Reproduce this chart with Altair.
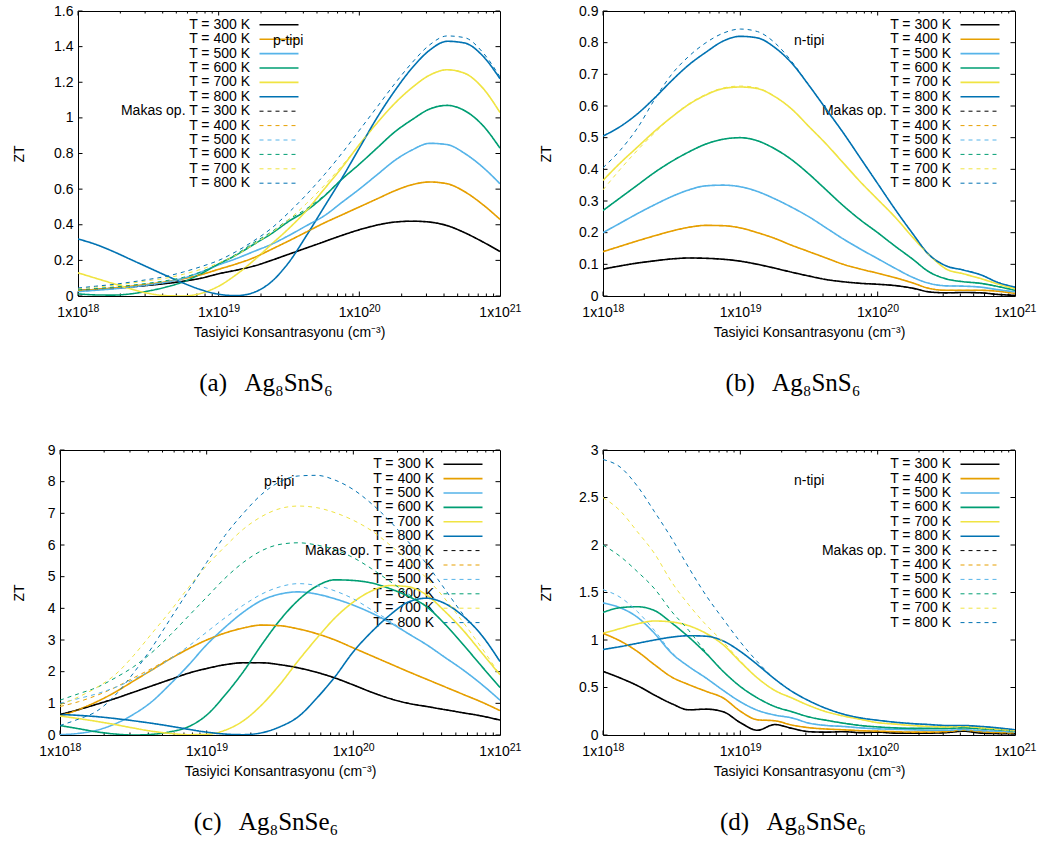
import altair as alt
import pandas as pd

# ---------------------------------------------------------------------------
# Sampling grid: log10 of the carrier concentration (cm^-3)
# ---------------------------------------------------------------------------
LOG_N = [18.0, 18.125, 18.25, 18.375, 18.5, 18.625, 18.75, 18.875,
         19.0, 19.125, 19.25, 19.375, 19.5, 19.625, 19.75, 19.875,
         20.0, 20.125, 20.25, 20.375, 20.5, 20.625, 20.75, 20.875, 21.0]

TEMPS = ["300", "400", "500", "600", "700", "800"]
COLORS = ["#000000", "#e69f00", "#56b4e9", "#009e73", "#f0e442", "#0072b2"]

X_TICK_VALUES = [1e18, 1e19, 1e20, 1e21]
X_TICK_BASE = ["1x10", "1x10", "1x10", "1x10"]
X_TICK_EXP = ["18", "19", "20", "21"]
X_TITLE = "Tasiyici Konsantrasyonu (cm⁻³)"
MINOR_FACTORS = [2, 3, 4, 5, 6, 7, 8, 9]

LEGEND_LABELS = ["T = 300 K", "T = 400 K", "T = 500 K", "T = 600 K",
                 "T = 700 K", "T = 800 K",
                 "Makas op. T = 300 K", "T = 400 K", "T = 500 K",
                 "T = 600 K", "T = 700 K", "T = 800 K"]

# ---------------------------------------------------------------------------
# (a) Ag8SnS6, p-type
# ---------------------------------------------------------------------------
A_YTICKS = [0, 0.2, 0.4, 0.6, 0.8, 1, 1.2, 1.4, 1.6]
a_300 = [0.03, 0.036, 0.043, 0.051, 0.06, 0.07, 0.083, 0.1, 0.125, 0.145, 0.168, 0.2, 0.235,
         0.27, 0.305, 0.34, 0.372, 0.398, 0.415, 0.42, 0.415, 0.395, 0.355, 0.305, 0.25]
a_400 = [0.03, 0.037, 0.045, 0.055, 0.066, 0.08, 0.097, 0.12, 0.15, 0.18, 0.215, 0.262, 0.31,
         0.36, 0.41, 0.455, 0.5, 0.545, 0.59, 0.625, 0.64, 0.63, 0.585, 0.515, 0.43]
a_500 = [0.025, 0.032, 0.04, 0.05, 0.062, 0.077, 0.1, 0.135, 0.175, 0.21, 0.25, 0.29, 0.34,
         0.395, 0.45, 0.525, 0.6, 0.68, 0.76, 0.82, 0.857, 0.85, 0.8, 0.725, 0.63]
a_600 = [0.012, 0.006, 0.005, 0.012, 0.028, 0.05, 0.08, 0.125, 0.18, 0.23, 0.29, 0.35, 0.42,
         0.48, 0.56, 0.655, 0.74, 0.83, 0.92, 0.99, 1.05, 1.07, 1.04, 0.96, 0.83]
a_700 = [0.13, 0.1, 0.07, 0.04, 0.015, 0.002, 0.0, 0.015, 0.055, 0.12, 0.2, 0.29, 0.38,
         0.48, 0.6, 0.72, 0.85, 0.97, 1.08, 1.17, 1.24, 1.27, 1.25, 1.17, 1.03]
a_800 = [0.32, 0.29, 0.25, 0.205, 0.16, 0.115, 0.072, 0.035, 0.01, 0.002, 0.02, 0.08, 0.19,
         0.34, 0.5, 0.66, 0.83, 1.0, 1.15, 1.28, 1.38, 1.43, 1.42, 1.35, 1.22]
a_makas_300 = a_300
a_makas_400 = a_400
a_makas_500 = a_500
a_makas_600 = [0.035, 0.042, 0.05, 0.06, 0.072, 0.086, 0.105, 0.135, 0.18, 0.235, 0.3, 0.36, 0.43,
               0.49, 0.565, 0.655, 0.74, 0.83, 0.92, 0.99, 1.05, 1.07, 1.04, 0.96, 0.83]
a_makas_700 = [0.04, 0.05, 0.06, 0.072, 0.086, 0.1, 0.122, 0.15, 0.185, 0.23, 0.29, 0.355, 0.43,
               0.52, 0.62, 0.73, 0.85, 0.97, 1.08, 1.17, 1.24, 1.27, 1.25, 1.17, 1.03]
a_makas_800 = [0.045, 0.055, 0.065, 0.078, 0.093, 0.11, 0.135, 0.165, 0.2, 0.25, 0.31, 0.38, 0.47,
               0.57, 0.68, 0.8, 0.93, 1.06, 1.19, 1.31, 1.41, 1.46, 1.45, 1.37, 1.23]

# ---------------------------------------------------------------------------
# (b) Ag8SnS6, n-type
# ---------------------------------------------------------------------------
B_YTICKS = [0, 0.1, 0.2, 0.3, 0.4, 0.5, 0.6, 0.7, 0.8, 0.9]
b_300 = [0.085, 0.095, 0.104, 0.111, 0.117, 0.12, 0.119, 0.116, 0.11, 0.1, 0.088, 0.075, 0.063,
         0.052, 0.045, 0.04, 0.037, 0.033, 0.025, 0.013, 0.01, 0.011, 0.01, 0.005, 0.002]
b_400 = [0.14, 0.157, 0.174, 0.19, 0.205, 0.217, 0.223, 0.222, 0.215, 0.2, 0.182, 0.16, 0.14,
         0.12, 0.1, 0.085, 0.072, 0.058, 0.042, 0.024, 0.018, 0.018, 0.018, 0.015, 0.008]
b_500 = [0.2, 0.23, 0.26, 0.288, 0.314, 0.335, 0.348, 0.35, 0.345, 0.33, 0.307, 0.28, 0.25,
         0.215, 0.18, 0.148, 0.118, 0.088, 0.06, 0.04, 0.032, 0.031, 0.028, 0.02, 0.013]
b_600 = [0.27, 0.31, 0.35, 0.39, 0.425, 0.455, 0.48, 0.495, 0.5, 0.49, 0.465, 0.43, 0.385,
         0.335, 0.285, 0.24, 0.2, 0.158, 0.118, 0.076, 0.054, 0.045, 0.04, 0.03, 0.018]
b_700 = [0.365, 0.42, 0.47, 0.52, 0.565, 0.605, 0.635, 0.655, 0.66, 0.655, 0.63, 0.59, 0.535,
         0.48, 0.42, 0.36, 0.305, 0.25, 0.188, 0.13, 0.085, 0.07, 0.055, 0.038, 0.023]
b_800 = [0.505, 0.535, 0.575, 0.625, 0.68, 0.73, 0.77, 0.805, 0.82, 0.815, 0.785, 0.735, 0.665,
         0.59, 0.515, 0.435, 0.355, 0.275, 0.2, 0.13, 0.095, 0.082, 0.067, 0.043, 0.028]
b_makas_300 = b_300
b_makas_400 = b_400
b_makas_500 = b_500
b_makas_600 = b_600
b_makas_700 = [0.335, 0.4, 0.46, 0.515, 0.565, 0.607, 0.637, 0.657, 0.663, 0.657, 0.63, 0.59, 0.535,
               0.48, 0.42, 0.36, 0.305, 0.25, 0.188, 0.13, 0.085, 0.07, 0.055, 0.038, 0.023]
b_makas_800 = [0.405, 0.46, 0.53, 0.62, 0.7, 0.757, 0.8, 0.83, 0.843, 0.835, 0.8, 0.74, 0.665,
               0.59, 0.515, 0.435, 0.355, 0.275, 0.2, 0.13, 0.095, 0.082, 0.067, 0.043, 0.028]

# ---------------------------------------------------------------------------
# (c) Ag8SnSe6, p-type
# ---------------------------------------------------------------------------
C_YTICKS = [0, 1, 2, 3, 4, 5, 6, 7, 8, 9]
c_300 = [0.65, 0.8, 0.97, 1.15, 1.35, 1.55, 1.75, 1.95, 2.1, 2.22, 2.28, 2.28, 2.22,
         2.12, 1.98, 1.8, 1.58, 1.35, 1.15, 1.0, 0.9, 0.8, 0.7, 0.6, 0.47]
c_400 = [0.6, 0.8, 1.05, 1.35, 1.7, 2.05, 2.4, 2.72, 3.0, 3.22, 3.38, 3.47, 3.45,
         3.35, 3.2, 3.0, 2.75, 2.5, 2.25, 2.0, 1.76, 1.52, 1.28, 1.04, 0.77]
c_500 = [0.01, 0.05, 0.15, 0.35, 0.65, 1.05, 1.6, 2.2, 2.85, 3.4, 3.88, 4.25, 4.45,
         4.52, 4.45, 4.3, 4.1, 3.85, 3.55, 3.2, 2.85, 2.45, 2.05, 1.6, 1.1]
c_600 = [0.3, 0.2, 0.1, 0.03, 0.0, 0.02, 0.1, 0.26, 0.63, 1.26, 2.0, 2.85, 3.63,
         4.26, 4.7, 4.9, 4.88, 4.8, 4.62, 4.38, 4.05, 3.5, 2.85, 2.17, 1.5]
c_700 = [0.6, 0.52, 0.43, 0.33, 0.22, 0.12, 0.05, 0.01, 0.02, 0.15, 0.45, 0.95, 1.6,
         2.35, 3.05, 3.7, 4.2, 4.55, 4.72, 4.68, 4.42, 3.9, 3.3, 2.6, 1.9]
c_800 = [0.65, 0.62, 0.58, 0.52, 0.45, 0.37, 0.28, 0.18, 0.09, 0.03, 0.01, 0.07, 0.26,
         0.58, 1.16, 1.84, 2.63, 3.26, 3.79, 4.2, 4.32, 4.15, 3.75, 3.15, 2.32]
c_makas_300 = c_300
c_makas_400 = [0.9, 1.05, 1.25, 1.5, 1.8, 2.1, 2.42, 2.73, 3.0, 3.22, 3.38, 3.47, 3.45,
               3.35, 3.2, 3.0, 2.75, 2.5, 2.25, 2.0, 1.76, 1.52, 1.28, 1.04, 0.77]
c_makas_500 = [1.0, 1.15, 1.3, 1.5, 1.75, 2.05, 2.4, 2.8, 3.25, 3.7, 4.1, 4.45, 4.68,
               4.78, 4.72, 4.55, 4.3, 3.95, 3.6, 3.2, 2.85, 2.45, 2.05, 1.6, 1.1]
c_makas_600 = [1.1, 1.3, 1.5, 1.8, 2.15, 2.6, 3.15, 3.75, 4.35, 4.95, 5.45, 5.82, 6.02,
               6.07, 6.0, 5.85, 5.6, 5.25, 4.85, 4.45, 4.05, 3.5, 2.85, 2.17, 1.5]
c_makas_700 = [0.95, 1.2, 1.5, 1.9, 2.5, 3.2, 3.9, 4.65, 5.35, 5.95, 6.5, 6.9, 7.15,
               7.23, 7.18, 7.02, 6.78, 6.45, 6.0, 5.5, 4.95, 4.3, 3.55, 2.75, 1.9]
c_makas_800 = [0.3, 0.5, 0.75, 1.25, 1.95, 2.75, 3.65, 4.55, 5.45, 6.3, 7.0, 7.6, 8.0,
               8.18, 8.2, 8.05, 7.75, 7.3, 6.75, 6.1, 5.4, 4.6, 3.8, 3.15, 2.32]

# ---------------------------------------------------------------------------
# (d) Ag8SnSe6, n-type
# ---------------------------------------------------------------------------
D_YTICKS = [0, 0.5, 1, 1.5, 2, 2.5, 3]
d_300 = [0.67, 0.6, 0.52, 0.42, 0.33, 0.265, 0.272, 0.245, 0.13, 0.05, 0.11, 0.07, 0.035,
         0.03, 0.035, 0.025, 0.03, 0.02, 0.02, 0.02, 0.025, 0.04, 0.02, 0.015, 0.015]
d_400 = [1.07, 0.99, 0.88, 0.74, 0.61, 0.53, 0.46, 0.39, 0.25, 0.16, 0.15, 0.105, 0.077,
         0.063, 0.055, 0.045, 0.04, 0.035, 0.03, 0.03, 0.035, 0.05, 0.035, 0.025, 0.02]
d_500 = [1.39, 1.34, 1.24, 1.07, 0.86, 0.72, 0.6, 0.47, 0.35, 0.26, 0.21, 0.18, 0.125,
         0.1, 0.09, 0.075, 0.065, 0.06, 0.055, 0.05, 0.05, 0.055, 0.045, 0.04, 0.03]
d_600 = [1.29, 1.34, 1.35, 1.31, 1.18, 1.03, 0.86, 0.67, 0.51, 0.39, 0.3, 0.245, 0.19,
         0.155, 0.125, 0.1, 0.085, 0.075, 0.07, 0.07, 0.07, 0.075, 0.065, 0.055, 0.04]
d_700 = [1.07, 1.12, 1.17, 1.2, 1.19, 1.15, 1.07, 0.95, 0.77, 0.6, 0.47, 0.39, 0.31,
         0.245, 0.2, 0.165, 0.13, 0.115, 0.1, 0.09, 0.085, 0.09, 0.075, 0.06, 0.045]
d_800 = [0.9, 0.93, 0.965, 1.0, 1.03, 1.045, 1.04, 0.99, 0.88, 0.74, 0.59, 0.46, 0.36,
         0.28, 0.22, 0.18, 0.155, 0.135, 0.12, 0.11, 0.1, 0.1, 0.09, 0.075, 0.055]
d_makas_300 = d_300
d_makas_400 = d_400
d_makas_500 = [1.53, 1.45, 1.3, 1.1, 0.87, 0.72, 0.6, 0.47, 0.35, 0.26, 0.21, 0.18, 0.125,
               0.1, 0.09, 0.075, 0.065, 0.06, 0.055, 0.05, 0.05, 0.055, 0.045, 0.04, 0.03]
d_makas_600 = [2.0, 1.88, 1.72, 1.54, 1.3, 1.1, 0.87, 0.67, 0.51, 0.39, 0.3, 0.245, 0.19,
               0.155, 0.125, 0.1, 0.085, 0.075, 0.07, 0.07, 0.07, 0.075, 0.065, 0.055, 0.04]
d_makas_700 = [2.5, 2.36, 2.14, 1.91, 1.61, 1.37, 1.16, 0.98, 0.78, 0.6, 0.47, 0.39, 0.31,
               0.245, 0.2, 0.165, 0.13, 0.115, 0.1, 0.09, 0.085, 0.09, 0.075, 0.06, 0.045]
d_makas_800 = [2.9, 2.82, 2.62, 2.35, 2.07, 1.76, 1.47, 1.22, 0.98, 0.77, 0.59, 0.46, 0.36,
               0.28, 0.22, 0.18, 0.155, 0.135, 0.12, 0.11, 0.1, 0.1, 0.09, 0.075, 0.055]

# ---------------------------------------------------------------------------
# Styling
# ---------------------------------------------------------------------------
SANS = "Liberation Sans"
SERIF = "Liberation Serif"
PANEL_H = 285
LEG_STEP = 14.4
MAJOR_TICK = 4.5
MINOR_TICK = 2.5
EXP_SHIFT = 9.7  # half the width of the raised exponent, keeps "1x10^n" centred

color_scale = alt.Scale(domain=TEMPS, range=COLORS)
dash_scale = alt.Scale(domain=["solid", "makas"], range=[[1, 0], [4, 4]])
width_scale = alt.Scale(domain=["solid", "makas"], range=[1.6, 1.0])


def curve_frame(solid, makas):
    rows = []
    for kind, group in (("solid", solid), ("makas", makas)):
        for temp, values in zip(TEMPS, group):
            for e, v in zip(LOG_N, values):
                rows.append({"n": 10 ** e, "zt": v, "temp": temp, "kind": kind,
                             "series": kind + temp})
    return pd.DataFrame(rows)


def panel(solid, makas, yticks, width, leg_right, leg_top, note, note_x, note_y,
          caption, caption_dx, zt_x):
    xscale = alt.Scale(type="log", domain=[1e18, 1e21], nice=False)
    yscale = alt.Scale(domain=[0, yticks[-1]], nice=False, zero=False)

    x_axis = alt.Axis(values=X_TICK_VALUES, labels=False, title=X_TITLE,
                      titlePadding=29)
    y_axis = alt.Axis(values=yticks, format="~g", title="ZT", titleX=zt_x,
                      titleY=PANEL_H / 2, titleAngle=270, titleBaseline="middle",
                      titleAlign="center", labelFlush=False, labelOverlap=False,
                      labelPadding=5)

    curves = alt.Chart(curve_frame(solid, makas)).mark_line(
        interpolate="monotone", clip=True
    ).encode(
        x=alt.X("n:Q", scale=xscale, axis=x_axis),
        y=alt.Y("zt:Q", scale=yscale, axis=y_axis),
        color=alt.Color("temp:N", scale=color_scale, legend=None),
        strokeDash=alt.StrokeDash("kind:N", scale=dash_scale, legend=None),
        strokeWidth=alt.StrokeWidth("kind:N", scale=width_scale, legend=None),
        detail="series:N",
    )

    # inward tick marks on all four sides of the frame
    xt_rows = []
    for d in range(18, 21):
        for f in [1] + MINOR_FACTORS:
            v = f * 10.0 ** d
            size = MAJOR_TICK if f == 1 else MINOR_TICK
            xt_rows.append({"v": v, "y0": PANEL_H, "y1": PANEL_H - size})
            xt_rows.append({"v": v, "y0": 0, "y1": size})
    x_ticks = alt.Chart(pd.DataFrame(xt_rows)).mark_rule(
        color="black", strokeWidth=1
    ).encode(
        x=alt.X("v:Q", scale=xscale, axis=x_axis),
        y=alt.Y("y0:Q", scale=None, axis=None),
        y2="y1:Q",
    )
    yt_rows = []
    for v in yticks:
        yt_rows.append({"v": v, "x0": 0, "x1": MAJOR_TICK})
        yt_rows.append({"v": v, "x0": width, "x1": width - MAJOR_TICK})
    y_ticks = alt.Chart(pd.DataFrame(yt_rows)).mark_rule(
        color="black", strokeWidth=1
    ).encode(
        x=alt.X("x0:Q", scale=None, axis=None),
        x2="x1:Q",
        y=alt.Y("v:Q", scale=yscale, axis=y_axis),
    )

    # decade labels "1x10" with a raised exponent
    xl = pd.DataFrame({"v": X_TICK_VALUES, "base": X_TICK_BASE, "exp": X_TICK_EXP})
    x_base = alt.Chart(xl).mark_text(
        align="right", baseline="alphabetic", dx=EXP_SHIFT, font=SANS, fontSize=14,
        color="black",
    ).encode(
        x=alt.X("v:Q", scale=xscale, axis=x_axis),
        y=alt.value(PANEL_H + 21),
        text="base:N",
    )
    x_exp = alt.Chart(xl).mark_text(
        align="left", baseline="alphabetic", dx=EXP_SHIFT, font=SANS, fontSize=10.5,
        color="black",
    ).encode(
        x=alt.X("v:Q", scale=xscale, axis=x_axis),
        y=alt.value(PANEL_H + 16),
        text="exp:N",
    )

    # key inside the frame: label on the left, line sample on the right
    leg = pd.DataFrame({
        "label": LEGEND_LABELS,
        "temp": TEMPS + TEMPS,
        "kind": ["solid"] * 6 + ["makas"] * 6,
    })
    leg["py"] = [leg_top + i * LEG_STEP for i in range(len(leg))]
    leg["tx"] = leg_right
    leg["lx0"] = leg_right + 9.5
    leg["lx1"] = leg_right + 48.5
    leg_text = alt.Chart(leg).mark_text(
        align="right", baseline="middle", font=SANS, fontSize=14, color="black"
    ).encode(
        x=alt.X("tx:Q", scale=None, axis=None),
        y=alt.Y("py:Q", scale=None, axis=None),
        text="label:N",
    )
    leg_lines = alt.Chart(leg).mark_rule().encode(
        x=alt.X("lx0:Q", scale=None, axis=None),
        x2="lx1:Q",
        y=alt.Y("py:Q", scale=None, axis=None),
        color=alt.Color("temp:N", scale=color_scale, legend=None),
        strokeDash=alt.StrokeDash("kind:N", scale=dash_scale, legend=None),
        strokeWidth=alt.StrokeWidth("kind:N", scale=width_scale, legend=None),
    )

    label = alt.Chart(pd.DataFrame({"label": [note], "px": [note_x], "py": [note_y]})).mark_text(
        align="left", baseline="middle", font=SANS, fontSize=14, color="black"
    ).encode(
        x=alt.X("px:Q", scale=None, axis=None),
        y=alt.Y("py:Q", scale=None, axis=None),
        text="label:N",
    )

    return alt.layer(
        x_ticks, y_ticks, x_base, x_exp, leg_text, leg_lines, label, curves
    ).properties(
        width=width,
        height=PANEL_H,
        title=alt.TitleParams(
            text=caption, orient="bottom", anchor="middle", frame="group",
            dx=caption_dx, offset=32, baseline="top", font=SERIF, fontSize=25,
            fontWeight="normal", color="black",
        ),
    )


panel_a = panel(
    [a_300, a_400, a_500, a_600, a_700, a_800],
    [a_makas_300, a_makas_400, a_makas_500, a_makas_600, a_makas_700, a_makas_800],
    A_YTICKS, 422, 172, 13.8, "p-tipi", 195, 29.5, "(a)\u2002 Ag₈SnS₆", -23, -59,
)
panel_b = panel(
    [b_300, b_400, b_500, b_600, b_700, b_800],
    [b_makas_300, b_makas_400, b_makas_500, b_makas_600, b_makas_700, b_makas_800],
    B_YTICKS, 412, 348, 13.8, "n-tipi", 191, 30, "(b)\u2002 Ag₈SnS₆", -16, -57,
)
panel_c = panel(
    [c_300, c_400, c_500, c_600, c_700, c_800],
    [c_makas_300, c_makas_400, c_makas_500, c_makas_600, c_makas_700, c_makas_800],
    C_YTICKS, 440, 374, 14.2, "p-tipi", 204, 31.5, "(c)\u2002 Ag₈SnSe₆", -14, -41,
)
panel_d = panel(
    [d_300, d_400, d_500, d_600, d_700, d_800],
    [d_makas_300, d_makas_400, d_makas_500, d_makas_600, d_makas_700, d_makas_800],
    D_YTICKS, 412, 348, 14.2, "n-tipi", 191, 30.5, "(d)\u2002 Ag₈SnSe₆", -16, -57,
)

# empty strip that indents the upper pair relative to the lower pair
indent = alt.Chart(pd.DataFrame({"s": [0]})).mark_point(opacity=0).encode(
    x=alt.value(0), y=alt.value(0)
).properties(width=18, height=10, view=alt.ViewBackground(stroke="transparent"))

top_pair = alt.hconcat(panel_a, panel_b, spacing=103, bounds="flush")
top_row = alt.hconcat(indent, top_pair, spacing=0, bounds="flush")
bottom_row = alt.hconcat(panel_c, panel_d, spacing=103, bounds="flush")

chart = alt.concat(top_row, bottom_row, columns=1, align="none", spacing=45).properties(
    padding={"left": 11, "top": 3, "right": 0, "bottom": 0},
).configure(
    background="white",
).configure_view(
    stroke="black", strokeWidth=1,
).configure_axis(
    labelFont=SANS, labelFontSize=14, labelColor="black",
    titleFont=SANS, titleFontSize=14, titleFontWeight="normal", titleColor="black",
    grid=False, ticks=False, tickSize=0, domain=False,
)

chart.save("out.html", embed_options={"renderer": "svg", "actions": False})
